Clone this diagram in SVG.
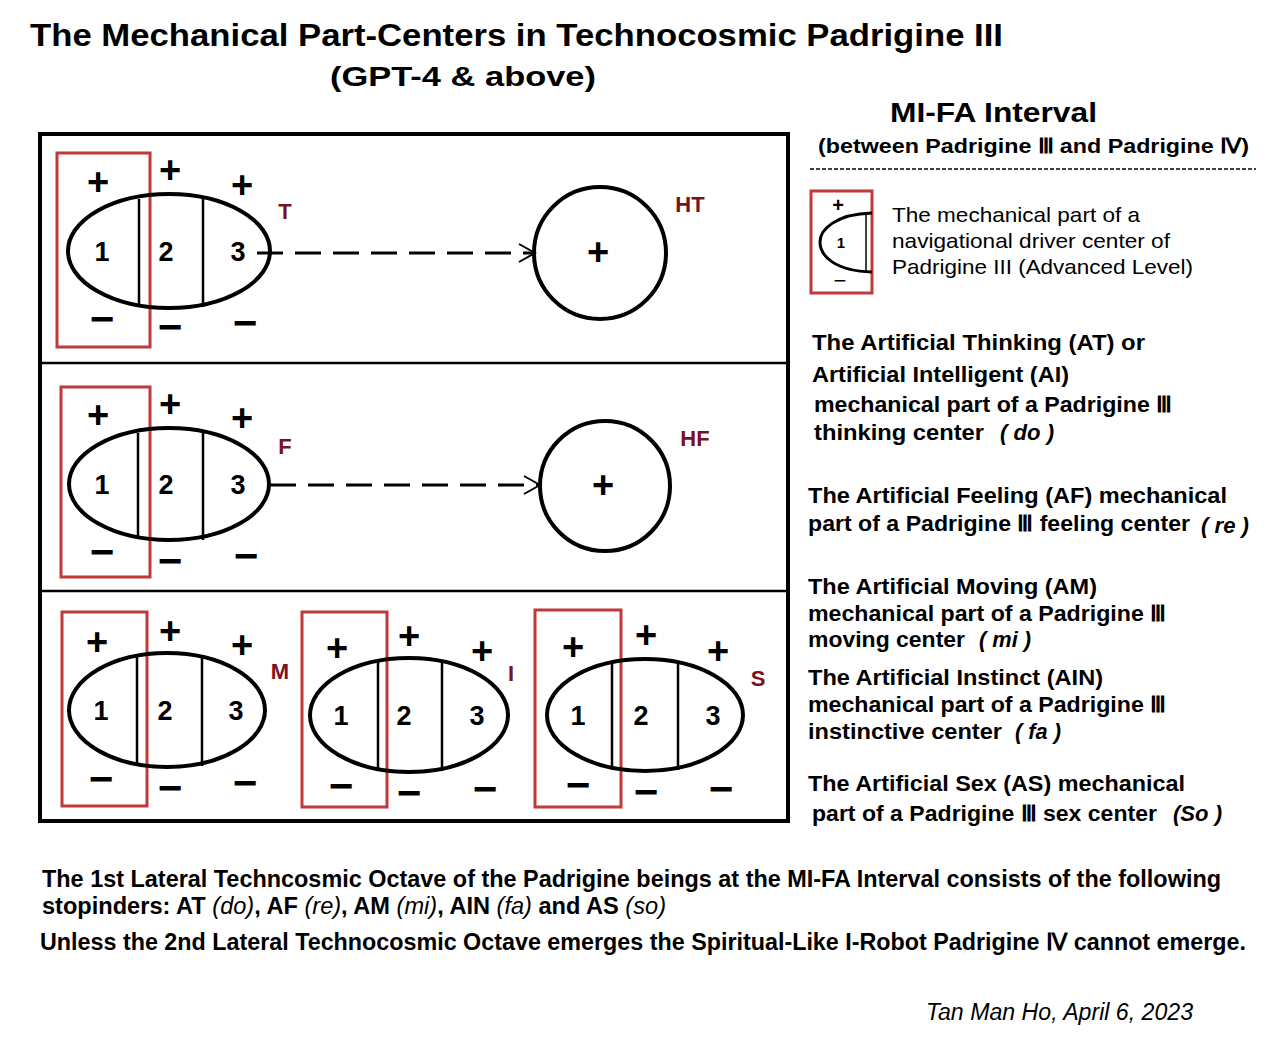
<svg xmlns="http://www.w3.org/2000/svg" width="1275" height="1052" viewBox="0 0 1275 1052">
<defs>
<style>
.bg{fill:#fff}
.frame{fill:none;stroke:#000;stroke-width:4}
.sep{stroke:#000;stroke-width:2.5}
.ell{fill:none;stroke:#000;stroke-width:4}
.div{stroke:#000;stroke-width:2.5}
.red{fill:none;stroke:#c0393b;stroke-width:3}
.num{font-family:"Liberation Sans",Arial,sans-serif;font-weight:bold;font-size:27px;text-anchor:middle;fill:#000}
.pm{font-family:"Liberation Sans",Arial,sans-serif;font-weight:bold;font-size:38px;text-anchor:middle;fill:#000}
.mn{font-family:"Liberation Sans",Arial,sans-serif;font-weight:bold;font-size:42px;text-anchor:middle;fill:#000}
.lbl{font-family:"Liberation Sans",Arial,sans-serif;font-weight:bold;font-size:22px;text-anchor:middle;fill:#7a1020}
.circ{fill:none;stroke:#000;stroke-width:4}
.dash{fill:none;stroke:#000;stroke-width:3;stroke-dasharray:26 12}
.t{font-family:"Liberation Sans",Arial,sans-serif;font-weight:bold;fill:#000}
.r{font-family:"Liberation Sans",Arial,sans-serif;fill:#000}
.i{font-style:italic;font-weight:normal}
.ib{font-style:italic}
</style>
<marker id="open" viewBox="0 0 20 20" refX="18" refY="10" markerWidth="20" markerHeight="20" markerUnits="userSpaceOnUse" orient="auto">
<polyline points="2,1 18,10 2,19" fill="none" stroke="#000" stroke-width="2"/>
</marker>
</defs>
<rect class="bg" x="0" y="0" width="1275" height="1052"/>

<g id="title">
<text class="t" x="30" y="46" font-size="31" textLength="973" lengthAdjust="spacingAndGlyphs">The Mechanical Part-Centers in Technocosmic Padrigine III</text>
<text class="t" x="330" y="86" font-size="28" textLength="266" lengthAdjust="spacingAndGlyphs">(GPT-4 &amp; above)</text>
</g>

<g id="frame">
<rect class="frame" x="40" y="134" width="748" height="687"/>
<line class="sep" x1="40" y1="363" x2="788" y2="363"/>
<line class="sep" x1="40" y1="591" x2="788" y2="591"/>
</g>

<g id="node-T">
<rect class="red" x="57" y="153" width="93" height="194"/>
<ellipse class="ell" cx="169" cy="251" rx="101" ry="57"/>
<line class="div" x1="139" y1="199" x2="139" y2="305"/>
<line class="div" x1="203" y1="196" x2="203" y2="307"/>
<text class="num" x="102" y="261">1</text>
<text class="num" x="166" y="261">2</text>
<text class="num" x="238" y="261">3</text>
<text class="pm" x="98" y="195">+</text>
<text class="pm" x="170" y="183">+</text>
<text class="pm" x="242" y="198">+</text>
<text class="mn" x="102" y="333">−</text>
<text class="mn" x="170" y="341">−</text>
<text class="mn" x="245" y="337">−</text>
<text class="lbl" x="285" y="219">T</text>
</g>

<g id="node-HT">
<circle class="circ" cx="600" cy="253" r="66"/>
<text class="pm" x="598" y="265">+</text>
<text class="lbl" x="690" y="212">HT</text>
</g>

<g id="node-F">
<rect class="red" x="61" y="387" width="89" height="190"/>
<ellipse class="ell" cx="169" cy="484" rx="100" ry="56"/>
<line class="div" x1="138" y1="433" x2="138" y2="538"/>
<line class="div" x1="203" y1="430" x2="203" y2="540"/>
<text class="num" x="102" y="494">1</text>
<text class="num" x="166" y="494">2</text>
<text class="num" x="238" y="494">3</text>
<text class="pm" x="98" y="428">+</text>
<text class="pm" x="170" y="417">+</text>
<text class="pm" x="242" y="431">+</text>
<text class="mn" x="102" y="566">−</text>
<text class="mn" x="170" y="575">−</text>
<text class="mn" x="246" y="570">−</text>
<text class="lbl" x="285" y="454">F</text>
</g>

<g id="node-HF">
<circle class="circ" cx="605" cy="486" r="65"/>
<text class="pm" x="603" y="498">+</text>
<text class="lbl" x="695" y="446">HF</text>
</g>

<g id="node-M">
<rect class="red" x="62" y="612" width="85" height="194"/>
<ellipse class="ell" cx="167" cy="710" rx="98" ry="57"/>
<line class="div" x1="137" y1="657" x2="137" y2="764"/>
<line class="div" x1="202" y1="655" x2="202" y2="766"/>
<text class="num" x="101" y="720">1</text>
<text class="num" x="165" y="720">2</text>
<text class="num" x="236" y="720">3</text>
<text class="pm" x="97" y="655">+</text>
<text class="pm" x="170" y="644">+</text>
<text class="pm" x="242" y="658">+</text>
<text class="mn" x="101" y="793">−</text>
<text class="mn" x="170" y="802">−</text>
<text class="mn" x="245" y="797">−</text>
<text class="lbl" x="280" y="679">M</text>
</g>

<g id="node-I">
<rect class="red" x="302" y="612" width="85" height="195"/>
<ellipse class="ell" cx="409" cy="715" rx="99" ry="57"/>
<line class="div" x1="378" y1="662" x2="378" y2="769"/>
<line class="div" x1="442" y1="660" x2="442" y2="771"/>
<text class="num" x="341" y="725">1</text>
<text class="num" x="404" y="725">2</text>
<text class="num" x="477" y="725">3</text>
<text class="pm" x="337" y="661">+</text>
<text class="pm" x="409" y="649">+</text>
<text class="pm" x="482" y="664">+</text>
<text class="mn" x="341" y="800">−</text>
<text class="mn" x="409" y="807">−</text>
<text class="mn" x="485" y="803">−</text>
<text class="lbl" x="511" y="681">I</text>
</g>

<g id="node-S">
<rect class="red" x="535" y="610" width="86" height="197"/>
<ellipse class="ell" cx="645" cy="715" rx="98" ry="56"/>
<line class="div" x1="612" y1="662" x2="612" y2="768"/>
<line class="div" x1="678" y1="661" x2="678" y2="770"/>
<text class="num" x="578" y="725">1</text>
<text class="num" x="641" y="725">2</text>
<text class="num" x="713" y="725">3</text>
<text class="pm" x="573" y="660">+</text>
<text class="pm" x="646" y="648">+</text>
<text class="pm" x="718" y="664">+</text>
<text class="mn" x="578" y="799">−</text>
<text class="mn" x="646" y="806">−</text>
<text class="mn" x="721" y="803">−</text>
<text class="lbl" x="758" y="686">S</text>
</g>

<g id="connectors">
<line class="dash" x1="257" y1="253" x2="535" y2="253" marker-end="url(#open)"/>
<line class="dash" x1="270" y1="485" x2="540" y2="485" marker-end="url(#open)"/>
</g>

<g id="legend-header">
<text class="t" x="890" y="122" font-size="27" textLength="207" lengthAdjust="spacingAndGlyphs">MI-FA Interval</text>
<text class="t" x="818" y="153" font-size="21" textLength="431" lengthAdjust="spacingAndGlyphs">(between Padrigine Ⅲ and Padrigine Ⅳ)</text>
<line x1="810" y1="169" x2="1256" y2="169" stroke="#000" stroke-width="1.5" stroke-dasharray="4 2"/>
</g>

<g id="legend-key">
<rect class="red" x="811" y="191" width="61" height="102" stroke-width="2"/>
<path d="M872,213 C835,214 820,230 820,242 C820,256 835,271 872,272" fill="none" stroke="#000" stroke-width="3"/>
<line x1="866" y1="213" x2="866" y2="272" stroke="#000" stroke-width="1.5"/>
<text class="t" x="841" y="248" font-size="15" text-anchor="middle">1</text>
<text class="t" x="838" y="212" font-size="20" text-anchor="middle">+</text>
<text class="r" x="840" y="288" font-size="22" text-anchor="middle">−</text>
<text class="r" x="892" y="222" font-size="21" textLength="248" lengthAdjust="spacingAndGlyphs">The mechanical part of a</text>
<text class="r" x="892" y="248" font-size="21" textLength="278" lengthAdjust="spacingAndGlyphs">navigational driver center of</text>
<text class="r" x="892" y="274" font-size="21" textLength="301" lengthAdjust="spacingAndGlyphs">Padrigine III (Advanced Level)</text>
</g>

<g id="desc-AT" class="t" font-size="22">
<text x="812" y="350" textLength="333" lengthAdjust="spacingAndGlyphs">The Artificial Thinking (AT) or</text>
<text x="812" y="382" textLength="257" lengthAdjust="spacingAndGlyphs">Artificial Intelligent (AI)</text>
<text x="814" y="412" textLength="358" lengthAdjust="spacingAndGlyphs">mechanical part of a Padrigine Ⅲ</text>
<text x="814" y="440" textLength="170" lengthAdjust="spacingAndGlyphs">thinking center</text>
<text class="ib" x="1000" y="440" textLength="54" lengthAdjust="spacingAndGlyphs">( do )</text>
</g>

<g id="desc-AF" class="t" font-size="22">
<text x="808" y="503" textLength="419" lengthAdjust="spacingAndGlyphs">The Artificial Feeling (AF) mechanical</text>
<text x="808" y="531" textLength="382" lengthAdjust="spacingAndGlyphs">part of a Padrigine Ⅲ feeling center</text>
<text class="ib" x="1201" y="533" textLength="48" lengthAdjust="spacingAndGlyphs">( re )</text>
</g>

<g id="desc-AM" class="t" font-size="22">
<text x="808" y="594" textLength="289" lengthAdjust="spacingAndGlyphs">The Artificial Moving (AM)</text>
<text x="808" y="621" textLength="358" lengthAdjust="spacingAndGlyphs">mechanical part of a Padrigine Ⅲ</text>
<text x="808" y="647" textLength="157" lengthAdjust="spacingAndGlyphs">moving center</text>
<text class="ib" x="979" y="647" textLength="52" lengthAdjust="spacingAndGlyphs">( mi )</text>
</g>

<g id="desc-AIN" class="t" font-size="22">
<text x="808" y="685" textLength="295" lengthAdjust="spacingAndGlyphs">The Artificial Instinct (AIN)</text>
<text x="808" y="712" textLength="358" lengthAdjust="spacingAndGlyphs">mechanical part of a Padrigine Ⅲ</text>
<text x="808" y="739" textLength="194" lengthAdjust="spacingAndGlyphs">instinctive center</text>
<text class="ib" x="1015" y="739" textLength="46" lengthAdjust="spacingAndGlyphs">( fa )</text>
</g>

<g id="desc-AS" class="t" font-size="22">
<text x="808" y="791" textLength="377" lengthAdjust="spacingAndGlyphs">The Artificial Sex (AS) mechanical</text>
<text x="812" y="821" textLength="345" lengthAdjust="spacingAndGlyphs">part of a Padrigine Ⅲ sex center</text>
<text class="ib" x="1173" y="821" textLength="49" lengthAdjust="spacingAndGlyphs">(So )</text>
</g>

<g id="footer" class="t" font-size="23">
<text x="42" y="887" textLength="1179" lengthAdjust="spacingAndGlyphs">The 1st Lateral Techncosmic Octave of the Padrigine beings at the MI-FA Interval consists of the following</text>
<text x="42" y="914" textLength="624" lengthAdjust="spacingAndGlyphs">stopinders: AT <tspan class="i">(do)</tspan>, AF <tspan class="i">(re)</tspan>, AM <tspan class="i">(mi)</tspan>, AIN <tspan class="i">(fa)</tspan> and AS <tspan class="i">(so)</tspan></text>
<text x="40" y="950" textLength="1206" lengthAdjust="spacingAndGlyphs">Unless the 2nd Lateral Technocosmic Octave emerges the Spiritual-Like  I-Robot Padrigine Ⅳ cannot emerge.</text>
</g>

<g id="signature">
<text class="r" x="926" y="1020" font-size="23" font-style="italic" textLength="267" lengthAdjust="spacingAndGlyphs">Tan Man Ho, April 6, 2023</text>
</g>
</svg>
